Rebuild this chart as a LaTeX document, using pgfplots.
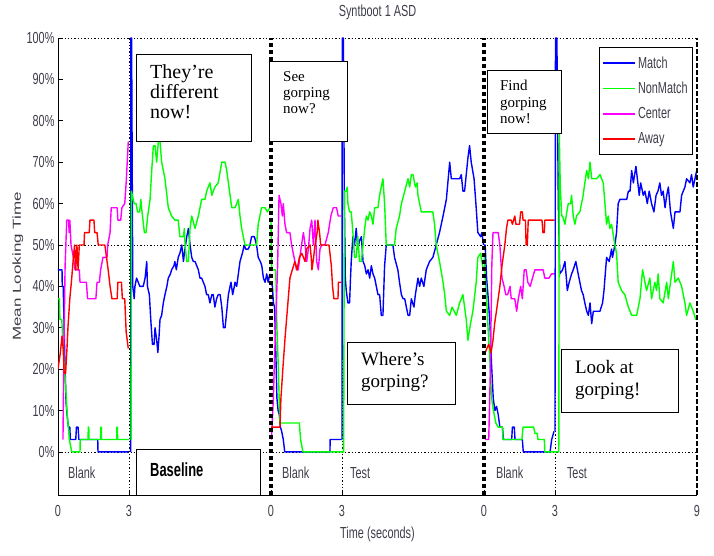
\documentclass[border=0pt]{standalone}
\usepackage{pgfplots}
\pgfplotsset{compat=1.18}
\usepackage{graphicx}
\usepackage{fontspec}
\setmainfont{Liberation Serif}
\newfontfamily\mlab[FakeStretch=0.68]{Liberation Sans}
\newfontfamily\mlabplain{Liberation Sans}
\definecolor{mgray}{RGB}{62,62,74}
\definecolor{mblue}{RGB}{0,0,255}
\definecolor{mgreen}{RGB}{0,255,0}
\definecolor{mmag}{RGB}{255,0,255}
\definecolor{mred}{RGB}{255,0,0}
\pgfplotsset{
  mb/.style={color=mblue, line width=1.4pt, line join=round},
  mg/.style={color=mgreen, line width=1.4pt, line join=round},
  mm/.style={color=mmag, line width=1.4pt, line join=round},
  mr/.style={color=mred, line width=1.4pt, line join=round},
}
\newcommand{\mf}{\mlab\fontsize{16}{17}\selectfont}
\begin{document}
\begin{tikzpicture}
\path[use as bounding box] (-58pt,-61pt) rectangle (656pt,495pt);
\begin{axis}[
  scale only axis, width=639pt, height=457pt,
  xmin=0, xmax=27, ymin=-10.4, ymax=100,
  axis x line*=bottom, axis y line*=left,
  axis line style={line width=0.9pt, black, -},
  xtick={0,3,9,12,18,21,27}, xticklabels={0,3,0,3,0,3,9},
  ytick={0,10,20,30,40,50,60,70,80,90,100},
  yticklabels={0\%,10\%,20\%,30\%,40\%,50\%,60\%,70\%,80\%,90\%,100\%},
  tick align=inside, major tick length=5pt,
  tick style={black, line width=0.8pt},
  ticklabel style={font=\mf, text=mgray},
  xticklabel style={yshift=-7pt},
  title={Syntboot 1 ASD},
  title style={at={(0.5,1)}, anchor=base, yshift=15pt, font=\mf, text=mgray},
  xlabel={Time (seconds)},
  xlabel style={at={(0.5,0)}, anchor=base, yshift=-44pt, font=\mf, text=mgray},
  ylabel={\scalebox{1}[0.68]{\mlabplain\fontsize{17}{18}\selectfont Mean Looking Time}},
  every axis y label/.style={at={(axis description cs:-0.0626,0.5)}, rotate=90, anchor=center, text=mgray},
  clip mode=individual,
  legend style={at={(axis cs:26.83,97.8)}, anchor=north east, draw=black, line width=0.7pt,
    fill=white, font=\mf, text=mgray, inner xsep=3pt, inner ysep=7pt, row sep=8.5pt},
  legend cell align=left,
  legend image code/.code={\draw[#1] (0pt,0pt) -- (32pt,0pt);},
]
\addlegendimage{mb}\addlegendentry{Match}
\addlegendimage{mg}\addlegendentry{NonMatch}
\addlegendimage{mm}\addlegendentry{Center}
\addlegendimage{mr}\addlegendentry{Away}
% reference lines
\draw[black, line width=0.8pt, dash pattern=on 1.3pt off 2pt] (axis cs:0,100) -- (axis cs:27,100);
\draw[black, line width=0.8pt, dash pattern=on 1.3pt off 2pt] (axis cs:0,50) -- (axis cs:27,50);
\draw[black, line width=0.8pt, dash pattern=on 1.3pt off 2pt] (axis cs:0,0) -- (axis cs:27,0);
\draw[black, line width=0.9pt, dash pattern=on 1.3pt off 2pt] (axis cs:3,-10.4) -- (axis cs:3,100);
\draw[black, line width=0.9pt, dash pattern=on 1.3pt off 2pt] (axis cs:12,-10.4) -- (axis cs:12,100);
\draw[black, line width=0.9pt, dash pattern=on 1.3pt off 2pt] (axis cs:21,-10.4) -- (axis cs:21,100);

% ---------- Blank 1 (0-3 s) ----------
\addplot[mb, forget plot] coordinates {(0,44) (0.17,44) (0.18,40) (0.22,40) (0.26,30) (0.3,20) (0.34,12) (0.4,8) (0.44,6) (0.5,6) (0.52,3) (0.75,3) (0.78,6) (0.85,6) (0.88,3) (1.68,3) (1.69,0) (3.0,0)};
\addplot[mg, forget plot] coordinates {(0,37) (0.06,37) (0.08,32) (0.16,32) (0.22,25) (0.3,18) (0.38,10) (0.48,3) (0.58,0) (0.93,0) (0.94,3) (1.27,3) (1.28,6) (1.3,6) (1.31,3) (1.8,3) (1.81,6) (1.83,6) (1.84,3) (2.48,3) (2.49,6) (2.51,6) (2.52,3) (3.0,3)};
\addplot[mm, forget plot] coordinates {(0.21,3) (0.25,25) (0.3,45) (0.37,56) (0.45,56) (0.47,53) (0.5,56) (0.55,50) (0.65,47) (0.72,44) (0.9,44) (0.93,41) (1.2,41) (1.25,37) (1.6,37) (1.65,41) (1.75,41) (1.8,44) (1.9,47) (2.07,47) (2.1,50) (2.2,53) (2.25,59) (2.5,59) (2.53,56) (2.65,56) (2.7,59) (2.82,60) (2.88,65) (2.97,75)};
\addplot[mr, forget plot] coordinates {(0,20) (0.1,24) (0.17,28) (0.22,25) (0.26,19) (0.32,19) (0.38,25) (0.42,30) (0.5,37) (0.58,42) (0.65,47) (0.7,50) (0.75,44) (0.8,50) (0.85,44) (0.9,50) (1.1,50) (1.12,53) (1.32,53) (1.35,56) (1.52,56) (1.55,53) (1.65,53) (1.7,50) (1.98,50) (2.05,47) (2.12,44) (2.2,40) (2.28,37) (2.5,37) (2.53,41) (2.68,41) (2.72,37) (2.82,37) (2.88,29) (2.97,25)};

% ---------- Baseline (3-9 s) ----------
\addplot[mb, forget plot] coordinates {(3.07,0) (3.08,100) (3.11,100) (3.16,40) (3.22,37) (3.25,40) (3.32,42) (3.46,40) (3.6,40) (3.68,42) (3.75,46) (3.78,40) (3.86,38) (3.92,32) (3.99,26) (4.06,26) (4.1,30) (4.17,27) (4.22,24) (4.27,28) (4.31,32) (4.38,33) (4.45,36) (4.52,38) (4.6,40) (4.66,42) (4.75,43) (4.8,44) (4.9,45) (4.94,46) (5.0,44) (5.08,47) (5.15,48) (5.23,50) (5.3,46) (5.34,48) (5.44,52) (5.51,54) (5.58,50) (5.65,47) (5.72,46) (5.79,46) (5.86,45) (5.93,44) (6.0,42) (6.07,42) (6.14,41) (6.21,40) (6.28,38) (6.35,38) (6.42,36) (6.5,38) (6.56,38) (6.63,35) (6.7,37) (6.77,38) (6.85,38) (6.92,35) (6.99,30) (7.06,30) (7.13,34) (7.2,38) (7.27,40) (7.31,41) (7.38,38) (7.45,40) (7.48,41) (7.55,40) (7.62,43) (7.69,46) (7.79,48) (7.87,50) (7.93,49) (8.04,49) (8.11,50) (8.18,52) (8.3,52) (8.39,50) (8.46,47) (8.55,46) (8.61,45) (8.68,42) (8.75,41) (8.82,43) (8.88,41) (8.95,43)};
\addplot[mg, forget plot] coordinates {(3.09,3) (3.1,63) (3.22,60) (3.3,60) (3.36,58) (3.45,58) (3.5,61) (3.55,58) (3.65,53) (3.72,53) (3.79,57) (3.89,61) (3.96,68) (4.03,74) (4.1,74) (4.17,70) (4.24,75) (4.31,75) (4.38,70) (4.52,66) (4.66,59) (4.8,57) (4.94,56) (5.08,56) (5.15,52) (5.3,52) (5.34,54) (5.37,50) (5.44,46) (5.51,46) (5.58,54) (5.65,57) (5.79,54) (5.93,57) (6.07,61) (6.21,61) (6.28,63) (6.42,65) (6.5,62) (6.63,64) (6.77,65) (6.92,70) (7.06,70) (7.13,68) (7.27,62) (7.34,59) (7.48,59) (7.62,61) (7.69,57) (7.76,54) (7.9,50) (8.18,50) (8.39,50) (8.46,55) (8.6,59) (8.75,59) (8.85,58) (8.95,59)};

% ---------- Blank 2 (9-12 s) ----------
\addplot[mb, forget plot] coordinates {(9.0,41) (9.06,40) (9.1,36) (9.15,35) (9.2,25) (9.25,13) (9.3,10) (9.35,9) (9.4,6) (9.45,5) (9.52,3) (9.58,0) (11.49,0) (11.5,3) (11.98,3)};
\addplot[mg, forget plot] coordinates {(9.0,56) (9.03,44) (9.2,44) (9.25,30) (9.3,22) (9.35,12) (9.38,7) (10.2,7) (10.25,3) (10.35,0) (12.0,0)};
\addplot[mm, forget plot] coordinates {(9.02,3) (9.1,13) (9.14,21) (9.2,31) (9.28,45) (9.34,62) (9.42,60) (9.48,57) (9.52,60) (9.59,55) (9.66,53) (9.8,53) (9.87,50) (10.01,46) (10.08,44) (10.15,44) (10.22,47) (10.29,50) (10.37,53) (10.44,50) (10.51,46) (10.58,49) (10.65,54) (10.72,56) (10.79,50) (10.86,56) (10.93,46) (11.0,44) (11.07,49) (11.14,50) (11.28,50) (11.42,53) (11.53,57) (11.63,59) (11.77,59) (11.84,57) (11.96,57)};
\addplot[mr, forget plot] coordinates {(9.0,6) (9.38,6) (9.42,13) (9.5,20) (9.6,28) (9.7,35) (9.8,42) (9.9,44) (10.01,46) (10.1,44) (10.2,47) (10.3,48) (10.44,46) (10.5,49) (10.65,50) (10.7,47) (10.73,44) (10.8,47) (10.86,50) (10.95,53) (10.98,56) (11.05,53) (11.1,50) (11.45,50) (11.55,45) (11.6,40) (11.66,37) (11.83,37) (11.85,41) (11.97,41)};

% ---------- Test 1 (12-18 s) ----------
\addplot[mb, forget plot] coordinates {(12.0,3) (12.01,100) (12.06,100) (12.1,60) (12.14,42) (12.18,39) (12.25,36) (12.32,36) (12.36,42) (12.39,46) (12.46,52) (12.53,50) (12.6,54) (12.67,49) (12.74,51) (12.82,52) (12.89,46) (12.96,45) (13.03,43) (13.1,44) (13.17,42) (13.24,45) (13.31,43) (13.38,42) (13.45,40) (13.52,38) (13.59,38) (13.66,33) (13.73,33) (13.8,45) (13.87,50) (14.15,50) (14.22,47) (14.36,44) (14.43,41) (14.51,38) (14.58,37) (14.65,37) (14.72,35) (14.79,33) (14.86,33) (14.93,37) (15.04,35) (15.1,38) (15.21,42) (15.28,40) (15.35,42) (15.46,40) (15.56,44) (15.7,46) (15.84,47) (15.98,50) (16.12,53) (16.27,57) (16.41,61) (16.55,70) (16.62,66) (16.7,66) (16.83,66) (16.97,66) (17.04,67) (17.11,63) (17.18,63) (17.25,67) (17.32,71) (17.39,74) (17.46,70) (17.52,68) (17.58,66) (17.67,59) (17.74,53) (17.86,52) (17.91,53) (17.98,50)};
\addplot[mg, forget plot] coordinates {(12.0,0) (12.07,0) (12.1,63) (12.18,63) (12.22,64) (12.25,60) (12.32,58) (12.39,58) (12.46,53) (12.53,47) (12.6,47) (12.67,52) (12.74,46) (12.82,46) (12.89,50) (12.96,54) (13.03,57) (13.1,56) (13.17,58) (13.24,57) (13.31,55) (13.38,59) (13.52,59) (13.59,62) (13.66,64) (13.73,66) (13.8,60) (13.87,50) (14.22,50) (14.29,54) (14.43,57) (14.51,60) (14.65,63) (14.79,66) (14.86,64) (14.93,67) (15.0,67) (15.1,64) (15.17,65) (15.21,62) (15.35,58) (15.84,58) (15.91,55) (15.98,50) (16.12,46) (16.27,41) (16.34,38) (16.41,34) (16.55,33) (16.65,35) (16.83,33) (16.97,36) (17.11,38) (17.18,35) (17.25,32) (17.32,27) (17.43,31) (17.53,34) (17.67,41) (17.74,47) (17.86,48) (17.91,46) (17.98,44)};

% ---------- Blank 3 (18-21 s) ----------
\addplot[mb, forget plot] coordinates {(18.0,50) (18.05,50) (18.08,46) (18.11,42) (18.18,37) (18.25,31) (18.32,21) (18.39,13) (18.46,10) (18.53,11) (18.6,9) (18.67,6) (18.78,6) (18.82,3) (19.17,3) (19.2,6) (19.28,6) (19.31,3) (19.62,3) (19.66,0) (20.79,0) (20.86,3) (20.96,5)};
\addplot[mg, forget plot] coordinates {(18.0,48) (18.04,44) (18.1,38) (18.17,30) (18.25,22) (18.32,13) (18.4,10) (18.5,7) (18.6,6) (18.78,6) (18.8,3) (19.6,3) (19.65,6) (20.1,6) (20.15,4.5) (20.25,4.5) (20.28,3) (20.55,3) (20.57,0) (21.0,0)};
\addplot[mm, forget plot] coordinates {(18.05,3) (18.2,3) (18.27,20) (18.33,45) (18.38,53) (18.5,53) (18.6,53) (18.67,50) (18.76,42) (18.85,40) (18.92,38) (19.0,38) (19.1,40) (19.15,37) (19.3,37) (19.38,34) (19.45,37) (19.55,40) (19.62,37) (19.7,44) (19.78,44) (19.85,41) (19.95,40) (20.05,42) (20.15,44) (20.5,44) (20.57,42) (20.75,42) (20.85,43) (20.98,43)};
\addplot[mr, forget plot] coordinates {(18.05,24) (18.12,25) (18.2,26) (18.3,24) (18.38,27) (18.45,31) (18.55,35) (18.67,40) (18.76,45) (18.88,50) (18.95,54) (19.01,56) (19.15,56) (19.2,55) (19.3,57) (19.35,55) (19.5,55) (19.55,58) (19.62,58) (19.65,56) (19.75,56) (19.78,50) (19.83,50) (19.87,56) (20.45,56) (20.49,53) (20.55,53) (20.57,56) (20.98,56)};

% ---------- Test 2 (21-27 s) ----------
\addplot[mb, forget plot] coordinates {(21.0,5) (21.02,100) (21.08,100) (21.14,60) (21.2,43) (21.32,44) (21.42,46) (21.48,42) (21.52,39) (21.6,41) (21.7,43) (21.77,44) (21.88,46) (21.98,43) (22.05,41) (22.12,39) (22.19,38) (22.26,36) (22.34,34) (22.41,33) (22.48,36) (22.55,31) (22.62,34) (22.76,34) (22.9,34) (23.01,36) (23.07,39) (23.11,42) (23.18,47) (23.29,46) (23.39,49) (23.43,47) (23.53,50) (23.6,53) (23.67,60) (23.74,61) (24.03,61) (24.1,63) (24.17,63) (24.24,68) (24.31,65) (24.42,69) (24.48,66) (24.56,62) (24.62,65) (24.73,62) (24.8,63) (24.9,60) (24.98,63) (25.08,60) (25.18,58) (25.27,62) (25.35,63) (25.43,65) (25.5,62) (25.57,63) (25.65,59) (25.72,62) (25.79,64) (25.88,58) (26.0,54) (26.07,58) (26.28,58) (26.35,62) (26.49,64) (26.56,66) (26.7,65) (26.77,67) (26.84,64) (26.95,67) (26.99,68)};
\addplot[mg, forget plot] coordinates {(21.0,0) (21.16,0) (21.18,77) (21.22,65) (21.28,57) (21.32,57) (21.42,55) (21.5,58) (21.56,60) (21.66,60) (21.7,62) (21.77,57) (21.84,55) (21.91,57) (22.05,58) (22.12,60) (22.19,62) (22.26,65) (22.34,68) (22.41,66) (22.48,70) (22.55,66) (22.76,66) (22.9,67) (23.04,65) (23.11,60) (23.18,55) (23.25,57) (23.32,54) (23.39,55) (23.53,50) (23.6,48) (23.67,41) (23.81,39) (23.95,38) (24.1,35) (24.24,33) (24.45,33) (24.52,35) (24.59,37) (24.7,44) (24.8,41) (24.87,39) (25.01,42) (25.08,37) (25.22,41) (25.29,39) (25.36,43) (25.43,37) (25.57,36) (25.72,41) (25.79,37) (25.88,41) (26.0,46) (26.07,41) (26.21,42) (26.35,40) (26.49,36) (26.56,33) (26.7,36) (26.84,34) (26.95,32) (26.99,32)};

% thick dashed segment separators
\draw[black, line width=3.4pt, dash pattern=on 4pt off 3pt] (axis cs:9,-10.4) -- (axis cs:9,100);
\draw[black, line width=3.4pt, dash pattern=on 4pt off 3pt] (axis cs:18,-10.4) -- (axis cs:18,100);
\draw[black, line width=2.2pt, dash pattern=on 4.5pt off 2.5pt] (axis cs:27,-10.4) -- (axis cs:27,100);

% segment labels
\node[anchor=west, font=\mf, text=mgray, inner sep=0pt] at (axis cs:0.42,-5.07) {Blank};
\node[anchor=west, font=\mf, text=mgray, inner sep=0pt] at (axis cs:9.46,-5.07) {Blank};
\node[anchor=west, font=\mf, text=mgray, inner sep=0pt] at (axis cs:12.34,-5.07) {Test};
\node[anchor=west, font=\mf, text=mgray, inner sep=0pt] at (axis cs:18.5,-5.07) {Blank};
\node[anchor=west, font=\mf, text=mgray, inner sep=0pt] at (axis cs:21.5,-5.07) {Test};

% annotation boxes
\node[draw=black, line width=0.8pt, fill=white, anchor=north west, minimum width=115pt, minimum height=87pt, inner sep=0pt] at (axis cs:3.295,96.14) {};
\node[anchor=north west, align=left, inner sep=0pt, font=\fontsize{20}{20}\selectfont] at (axis cs:3.887,93.72) {They’re\\different\\now!};
\node[draw=black, line width=0.8pt, fill=white, anchor=north west, minimum width=78pt, minimum height=80pt, inner sep=0pt] at (axis cs:8.914,94.44) {};
\node[anchor=north west, align=left, inner sep=0pt, font=\fontsize{15}{16}\selectfont] at (axis cs:9.506,92.0) {See\\gorping\\now?};
\node[draw=black, line width=0.8pt, fill=white, anchor=north west, minimum width=74pt, minimum height=63pt, inner sep=0pt] at (axis cs:18.124,92.27) {};
\node[anchor=north west, align=left, inner sep=0pt, font=\fontsize{15}{16.5}\selectfont] at (axis cs:18.67,89.86) {Find\\gorping\\now!};
\node[draw=black, line width=0.8pt, fill=white, anchor=north west, minimum width=108pt, minimum height=62pt, inner sep=0pt] at (axis cs:12.21,26.57) {};
\node[anchor=north west, align=left, inner sep=0pt, font=\fontsize{19}{22}\selectfont] at (axis cs:12.80,24.15) {Where’s\\gorping?};
\node[draw=black, line width=0.8pt, fill=white, anchor=north west, minimum width=117pt, minimum height=63pt, inner sep=0pt] at (axis cs:21.25,24.88) {};
\node[anchor=north west, align=left, inner sep=0pt, font=\fontsize{19}{22}\selectfont] at (axis cs:21.84,22.22) {Look at\\gorping!};
\node[draw=black, line width=1.1pt, fill=white, anchor=north west, minimum width=124pt, minimum height=46pt, inner sep=0pt] at (axis cs:3.295,0.72) {};
\node[anchor=west, inner sep=0pt, font=\mlab\bfseries\fontsize{19}{20}\selectfont] at (axis cs:3.887,-4.35) {Baseline};
\end{axis}
\end{tikzpicture}
\end{document}
